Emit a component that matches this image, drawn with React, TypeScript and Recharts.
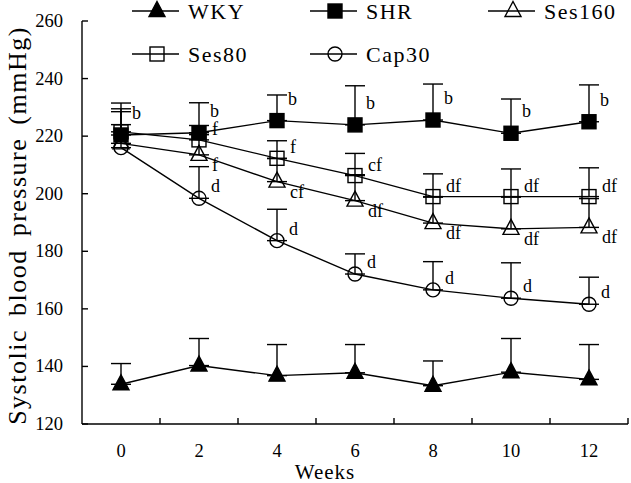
import React from 'react';
import { LineChart, Line, XAxis, YAxis, ErrorBar, LabelList, Legend, Label } from 'recharts';

const weeks = [0, 2, 4, 6, 8, 10, 12];
const yTicks = [120, 140, 160, 180, 200, 220, 240, 260];

// mean systolic pressure (mmHg) and upper SD for each group
const wky = [133.8, 140.3, 136.8, 137.8, 133.3, 138, 135.5];
const wkyErr = [7.2, 9.4, 10.8, 9.8, 8.6, 11.7, 12.1];
const shr = [220.4, 221.2, 225.4, 223.9, 225.6, 221, 225];
const shrErr = [11.1, 10.4, 8.9, 13.6, 12.5, 11.9, 12.8];
const ses160 = [217.5, 213.5, 204.2, 197.6, 189.8, 187.8, 188.3];
const ses160Err = [12, 7, 8, 9, 9, 11, 10];
const ses80 = [221.5, 218.7, 212.3, 206.3, 199, 199, 199];
const ses80Err = [7, 5, 6.1, 7.7, 7.9, 9.6, 10];
const cap30 = [216, 198.4, 183.7, 172.1, 166.6, 163.7, 161.6];
const cap30Err = [8, 11, 10.9, 7, 9.8, 12.3, 9.4];

// significance letters
const shrLabels = ['b', 'b', 'b', 'b', 'b', 'b', 'b'];
const ses160Labels = ['', 'f', 'cf', 'df', 'df', 'df', 'df'];
const ses80Labels = ['', 'f', 'f', 'cf', 'df', 'df', 'df'];
const cap30Labels = ['', 'd', 'd', 'd', 'd', 'd', 'd'];

const FONT = '"Liberation Serif", "Times New Roman", serif';

type Shape = 'triangle' | 'square' | 'circle';

// drawing order (later ones on top)
const series = [
  { key: 'cap30', name: 'Cap30', values: cap30, errs: cap30Err, labels: cap30Labels, shape: 'circle' as Shape, filled: false, lx: 12, ly: -12 },
  { key: 'ses80', name: 'Ses80', values: ses80, errs: ses80Err, labels: ses80Labels, shape: 'square' as Shape, filled: false, lx: 13, ly: -11 },
  { key: 'ses160', name: 'Ses160', values: ses160, errs: ses160Err, labels: ses160Labels, shape: 'triangle' as Shape, filled: false, lx: 13, ly: 10 },
  { key: 'shr', name: 'SHR', values: shr, errs: shrErr, labels: shrLabels, shape: 'square' as Shape, filled: true, lx: 11, ly: -22 },
  { key: 'wky', name: 'WKY', values: wky, errs: wkyErr, labels: null, shape: 'triangle' as Shape, filled: true, lx: 0, ly: 0 },
];

// legend order as in the figure
const legendOrder = ['wky', 'shr', 'ses160', 'ses80', 'cap30'];

const data = weeks.map((w, i) => {
  const row: any = { week: w };
  series.forEach(s => {
    row[s.key] = s.values[i];
    row[s.key + 'Err'] = [0, s.errs[i]];
    row[s.key + 'Lbl'] = s.labels ? s.labels[i] : '';
  });
  return row;
});

// tick marks sit between the week labels
const xTicks = [...weeks.flatMap(w => [w, w + 1])];

const Marker = ({ shape, filled, cx, cy }: { shape: Shape; filled: boolean; cx: number; cy: number }) => {
  const fill = filled ? '#000' : 'none';
  if (shape === 'triangle')
    return <path d={`M${cx},${cy - 9.5}L${cx + 8},${cy + 5.5}L${cx - 8},${cy + 5.5}Z`} fill={fill} stroke="#000" strokeWidth={1.4} />;
  if (shape === 'square')
    return <rect x={cx - 7} y={cy - 7} width={14} height={14} fill={fill} stroke="#000" strokeWidth={1.4} />;
  return <circle cx={cx} cy={cy} r={7} fill={fill} stroke="#000" strokeWidth={1.4} />;
};

const XTick = (p: any) => {
  const v = p.payload.value;
  if (v % 2 === 0)
    return (
      <text x={p.x} y={p.y + 27} textAnchor="middle" dominantBaseline="central" fontFamily={FONT} fontSize={18.5} fill="#000">
        {v}
      </text>
    );
  return <line x1={p.x} x2={p.x} y1={p.y} y2={p.y - 6} stroke="#000" strokeWidth={1.4} />;
};

const YTick = (p: any) => (
  <g>
    <line x1={p.x} x2={p.x + 6} y1={p.y} y2={p.y} stroke="#000" strokeWidth={1.4} />
    <text x={p.x - 19} y={p.y} textAnchor="end" dominantBaseline="central" fontFamily={FONT} fontSize={18.5} fill="#000">
      {p.payload.value}
    </text>
  </g>
);

const makeLabel = (dx: number, dy: number) => (p: any) =>
  p.value ? (
    <text x={p.x + dx} y={p.y + dy} dominantBaseline="central" fontFamily={FONT} fontSize={18} fill="#000">
      {p.value}
    </text>
  ) : null;

const renderLegend = () => (
  <svg width={631} height={75}>
    {legendOrder.map((k, i) => {
      const s = series.find(d => d.key === k)!;
      const x = 132 + (i % 3) * 178;
      const y = i < 3 ? 11 : 54;
      return (
        <g key={k}>
          <line x1={x} x2={x + 47} y1={y} y2={y} stroke="#000" strokeWidth={1.4} />
          <Marker shape={s.shape} filled={s.filled} cx={x + 25} cy={y} />
          <text x={x + 56} y={y} dominantBaseline="central" fontFamily={FONT} fontSize={22} letterSpacing={1.5} fill="#000">
            {s.name}
          </text>
        </g>
      );
    })}
  </svg>
);

export default function App() {
  return (
    <div style={{ position: 'absolute', left: 0, top: 0, width: 631, height: 483, background: '#fff' }}>
      <LineChart width={631} height={483} data={data} margin={{ top: 21, right: 3, bottom: 0, left: 0 }}>
        <XAxis
          dataKey="week"
          type="number"
          domain={[-1, 13]}
          ticks={xTicks}
          interval={0}
          height={59}
          tickLine={false}
          tickSize={0}
          tickMargin={0}
          axisLine={{ stroke: '#000', strokeWidth: 1.4 }}
          tick={(p: any) => <XTick {...p} />}
        >
          <Label
            content={(p: any) => (
              <text
                x={p.viewBox.x + p.viewBox.width / 2 - 30}
                y={p.viewBox.y + 48}
                textAnchor="middle"
                dominantBaseline="central"
                fontFamily={FONT}
                fontSize={21}
                letterSpacing={1}
                fill="#000"
              >
                Weeks
              </text>
            )}
          />
        </XAxis>
        <YAxis
          type="number"
          domain={[120, 260]}
          ticks={yTicks}
          interval={0}
          width={82}
          tickLine={false}
          tickSize={0}
          tickMargin={0}
          axisLine={{ stroke: '#000', strokeWidth: 1.4 }}
          tick={(p: any) => <YTick {...p} />}
        >
          <Label
            content={(p: any) => {
              const cx = p.viewBox.x + 17;
              const cy = p.viewBox.y + p.viewBox.height / 2 + 3;
              return (
                <text
                  x={cx}
                  y={cy}
                  transform={`rotate(-90 ${cx} ${cy})`}
                  textAnchor="middle"
                  dominantBaseline="central"
                  fontFamily={FONT}
                  fontSize={26}
                  letterSpacing={1.5}
                  wordSpacing={5}
                  fill="#000"
                >
                  Systolic blood pressure (mmHg)
                </text>
              );
            }}
          />
        </YAxis>
        <Legend
          content={renderLegend}
          layout="vertical"
          align="center"
          verticalAlign="middle"
          wrapperStyle={{ top: 0, left: 0, width: 631, height: 75 }}
        />
        {series.map(s => (
          <Line
            key={s.key}
            dataKey={s.key}
            name={s.name}
            stroke="#000"
            strokeWidth={1.4}
            isAnimationActive={false}
            activeDot={false}
            dot={(p: any) => <Marker key={`${s.key}-${p.index}`} shape={s.shape} filled={s.filled} cx={p.cx} cy={p.cy} />}
          >
            <ErrorBar dataKey={s.key + 'Err'} direction="y" width={10} stroke="#000" strokeWidth={1.4} />
            {s.labels && <LabelList dataKey={s.key + 'Lbl'} content={makeLabel(s.lx, s.ly)} />}
          </Line>
        ))}
      </LineChart>
    </div>
  );
}
